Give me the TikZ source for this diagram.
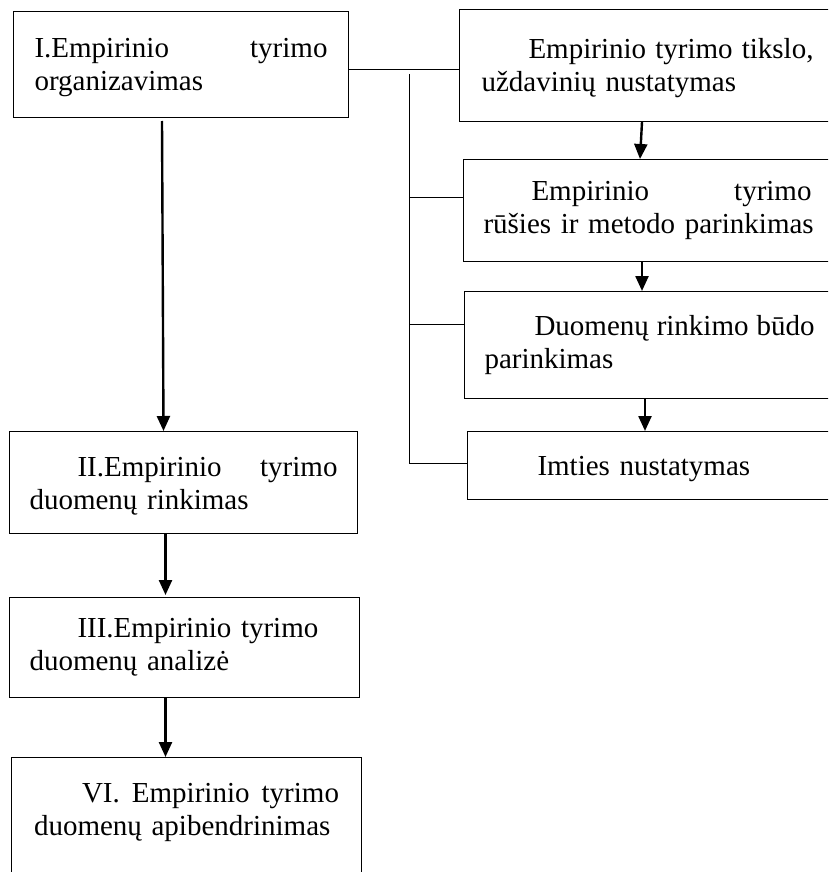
\documentclass[tikz,border=0pt]{standalone}
\usepackage{fontspec}
\setmainfont{Liberation Serif}
\usetikzlibrary{arrows.meta}
% taller first line, lowers a text block a little inside its box
\newcommand\firststrut{\rule{0pt}{26pt}}
% deeper last line, raises a text block inside its box
\newcommand\laststrut[1]{\rule[-#1]{0pt}{0pt}}
\begin{document}
\begin{tikzpicture}[x=1pt,y=-1pt,
  box/.style={draw,line width=1pt,anchor=north west,inner sep=0pt,align=left,
    font=\fontsize{29}{33}\selectfont},
  flow/.style={line width=2.4pt,-{Triangle[width=13pt,length=15pt]}},
  link/.style={line width=1pt}]
\clip (0,0) rectangle (828,872);

% left column
\node[box,minimum width=335pt,minimum height=106pt,text width=293pt] (I) at (13,11)
  {\firststrut I.Empirinio\hfill tyrimo\\organizavimas};
\node[box,minimum width=348pt,minimum height=102pt,text width=308pt] (II) at (9,431)
  {\firststrut\hspace*{48pt}II.Empirinio\hfill tyrimo\\duomenų rinkimas};
\node[box,minimum width=350pt,minimum height=100pt,text width=310pt] (III) at (9,597)
  {\hspace*{48pt}III.Empirinio tyrimo\\duomenų analizė};
\node[box,minimum width=350pt,minimum height=123pt,text width=305pt] (VI) at (11,757)
  {\hspace*{48pt}VI.\hfill Empirinio\hfill tyrimo\\duomenų apibendrinimas\laststrut{20pt}};

% right column (runs past the right margin)
\node[box,minimum width=376pt,minimum height=112pt,text width=332pt] (B1) at (459,9)
  {\firststrut\hspace*{47pt}Empirinio\hfill tyrimo\hfill tikslo,\\uždavinių nustatymas};
\node[box,minimum width=368pt,minimum height=102pt,text width=328pt] (B2) at (463,159)
  {\hspace*{48pt}Empirinio\hfill tyrimo\\\mbox{rūšies ir metodo parinkimas}};
\node[box,minimum width=370pt,minimum height=107pt,text width=330pt] (B3) at (464,291)
  {\hspace*{50pt}Duomenų\hfill rinkimo\hfill būdo\\parinkimas};
\node[box,minimum width=368pt,minimum height=68pt,text width=324pt] (B4) at (467,431)
  {\firststrut\hspace*{48pt}Imties nustatymas};

% link from the first stage to the sub-steps
\draw[link] ([yshift=-5pt]I.east) -- ([yshift=-4pt]B1.west);
\coordinate (bt) at (409,74);
\coordinate (bb) at (409,463);
\coordinate (j2) at ([yshift=13pt]B2.west);
\coordinate (j3) at ([yshift=20.5pt]B3.west);
\draw[link] (bt) -- (bb) -- (bb -| B4.west);
\draw[link] (j2 -| bt) -- (j2);
\draw[link] (j3 -| bt) -- (j3);

% main sequence
\draw[flow] ([xshift=-19pt,yshift=-3pt]I.south) -- ([xshift=-20pt]II.north);
\draw[flow] ([xshift=-18pt]II.south) -- ([xshift=-19pt,yshift=2pt]III.north);
\draw[flow] ([xshift=-19pt]III.south) -- ([xshift=-21pt]VI.north);

% sub-step sequence
\draw[flow] ([xshift=183pt]B1.south west) -- ([xshift=177pt]B2.north west);
\draw[flow] ([xshift=179pt]B2.south west) -- ([xshift=178pt]B3.north west);
\draw[flow] ([xshift=181pt]B3.south west) -- ([xshift=178pt]B4.north west);
\end{tikzpicture}
\end{document}
